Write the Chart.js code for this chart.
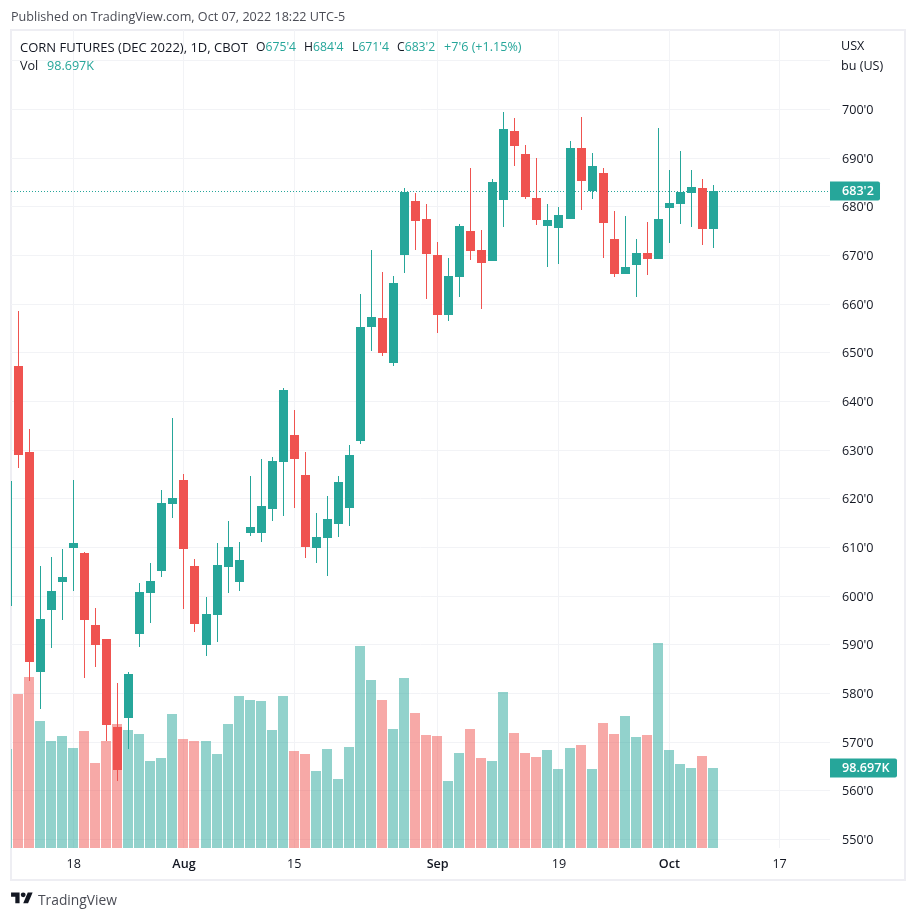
<!DOCTYPE html>
<html>
<head>
<meta charset="utf-8">
<title>CORN FUTURES (DEC 2022)</title>
<script src="https://cdn.jsdelivr.net/npm/chart.js@4/dist/chart.umd.min.js"></script>
<style>
    html, body { margin: 0; padding: 0; background: #fff; }
    body { width: 915px; height: 919px; position: relative; overflow: hidden; font-family: "Open Sans", sans-serif; color: #131722; }
    #frame { position: absolute; left: 10px; top: 29px; width: 892px; height: 848px; border: 2px solid #eeeef3; }
    canvas { position: absolute; left: 0; top: 0; }
    .txt { position: absolute; white-space: nowrap; font-size: 12.6px; line-height: 16px; }
    .val { color: #26a69a; }
    #published { left: 11px; top: 9px; color: #4a4c55; }
    #logo { position: absolute; left: 11px; top: 890px; }
    #brand { left: 38px; top: 890px; font-size: 13.8px; line-height: 20px; color: #4a4c55; }
</style>
</head>
<body>
<div id="frame"></div>
<canvas id="chart" width="915" height="919"></canvas>

<div class="txt" id="published">Published on TradingView.com, Oct 07, 2022 18:22 UTC-5</div>

<div class="txt" style="left:20px;top:39px;font-size:13px">CORN FUTURES (DEC 2022), 1D, CBOT</div>
<div class="txt" style="left:256px;top:39px;font-size:12.2px">O<span class="val">675'4</span></div>
<div class="txt" style="left:304px;top:39px;font-size:12.2px">H<span class="val">684'4</span></div>
<div class="txt" style="left:352px;top:39px;font-size:12.2px">L<span class="val">671'4</span></div>
<div class="txt" style="left:397px;top:39px;font-size:12.2px">C<span class="val">683'2</span></div>
<div class="txt val" style="left:444px;top:39px">+7'6 (+1.15%)</div>
<div class="txt" style="left:20px;top:58px">Vol</div>
<div class="txt val" style="left:47px;top:58px">98.697K</div>

<div class="txt" style="left:841px;top:38px">USX</div>
<div class="txt" style="left:841px;top:58px">bu (US)</div>

<svg id="logo" width="22" height="17" viewBox="0 0 36 28"><path fill="#131722" d="M14 22H7V11H0V4h14v18zM28 22h-8l7.5-18h8L28 22z"/><circle fill="#131722" cx="20" cy="8" r="4"/></svg>
<div class="txt" id="brand">TradingView</div>

<script>
const barDates = [
    '2022-07-08',
    '2022-07-11', '2022-07-12', '2022-07-13', '2022-07-14', '2022-07-15',
    '2022-07-18', '2022-07-19', '2022-07-20', '2022-07-21', '2022-07-22',
    '2022-07-25', '2022-07-26', '2022-07-27', '2022-07-28', '2022-07-29',
    '2022-08-01', '2022-08-02', '2022-08-03', '2022-08-04', '2022-08-05',
    '2022-08-08', '2022-08-09', '2022-08-10', '2022-08-11', '2022-08-12',
    '2022-08-15', '2022-08-16', '2022-08-17', '2022-08-18', '2022-08-19',
    '2022-08-22', '2022-08-23', '2022-08-24', '2022-08-25', '2022-08-26',
    '2022-08-29', '2022-08-30', '2022-08-31', '2022-09-01', '2022-09-02',
    '2022-09-06', '2022-09-07', '2022-09-08', '2022-09-09',
    '2022-09-12', '2022-09-13', '2022-09-14', '2022-09-15', '2022-09-16',
    '2022-09-19', '2022-09-20', '2022-09-21', '2022-09-22', '2022-09-23',
    '2022-09-26', '2022-09-27', '2022-09-28', '2022-09-29', '2022-09-30',
    '2022-10-03', '2022-10-04', '2022-10-05', '2022-10-06', '2022-10-07'
];
const opens = [
    598.0,
    647.3, 629.6, 584.3, 597.1, 602.9,
    609.9, 608.9, 594.1, 591.2, 573.1,
    575.0, 592.2, 600.6, 605.2, 618.9,
    623.9, 606.2, 590.0, 596.1, 606.0,
    602.9, 613.0, 613.0, 617.9, 627.6,
    633.1, 624.9, 609.9, 611.9, 614.8,
    618.1, 631.9, 655.3, 657.1, 647.9,
    670.1, 681.2, 677.5, 670.1, 657.8,
    665.6, 675.0, 671.1, 668.9,
    681.4, 695.6, 690.8, 681.8, 676.0,
    675.6, 677.5, 692.1, 683.2, 686.9,
    673.4, 666.2, 668.0, 670.5, 669.3,
    679.7, 680.6, 682.8, 683.9, 675.5
];
const highs = [
    623.6,
    658.6, 634.3, 606.2, 608.0, 609.7,
    623.9, 609.1, 597.6, 591.2, 582.1,
    584.4, 602.7, 606.8, 621.8, 636.6,
    625.1, 607.6, 599.8, 610.9, 615.4,
    611.1, 624.7, 628.2, 628.6, 642.8,
    638.2, 629.6, 617.1, 620.6, 624.7,
    631.1, 662.1, 671.1, 666.6, 665.8,
    683.9, 682.8, 680.6, 672.8, 669.5,
    676.5, 688.0, 675.2, 685.7,
    699.5, 698.2, 692.7, 690.0, 680.6,
    680.0, 693.5, 698.4, 691.0, 688.0,
    679.1, 678.1, 673.4, 676.9, 696.2,
    687.6, 691.5, 687.6, 685.7, 684.5
];
const lows = [
    598.0,
    626.4, 582.6, 576.9, 589.4, 595.1,
    601.1, 583.2, 585.4, 570.2, 562.1,
    568.6, 589.5, 594.5, 603.9, 616.1,
    597.4, 592.6, 587.7, 590.6, 600.6,
    601.1, 612.4, 611.1, 615.4, 616.5,
    618.1, 607.8, 606.8, 604.1, 612.1,
    614.4, 631.3, 650.4, 649.3, 647.3,
    666.4, 671.1, 661.0, 654.1, 656.5,
    661.5, 669.1, 659.0, 668.9,
    675.8, 688.4, 681.6, 676.3, 667.6,
    668.2, 677.5, 679.3, 681.6, 669.5,
    665.6, 666.2, 661.5, 666.0, 669.3,
    672.6, 676.5, 675.8, 672.1, 671.5
];
const closes = [
    623.6,
    628.9, 586.5, 595.3, 601.1, 603.9,
    610.9, 595.1, 590.0, 573.5, 564.3,
    584.0, 600.8, 603.1, 619.1, 620.2,
    609.7, 594.3, 596.3, 606.4, 610.1,
    607.4, 614.2, 618.5, 627.8, 642.4,
    628.2, 610.1, 612.1, 615.8, 623.4,
    629.0, 655.3, 657.4, 650.0, 664.3,
    683.0, 677.1, 670.3, 657.8, 665.8,
    676.0, 670.9, 668.4, 685.1,
    696.0, 692.5, 682.0, 677.3, 677.3,
    678.3, 692.1, 685.3, 688.4, 676.7,
    666.2, 667.6, 670.5, 669.3, 677.5,
    680.8, 683.0, 684.1, 675.4, 683.25
];
// volume in thousands
const volumes = [
    122.1,
    190.0, 211.0, 156.7, 132.0, 138.2,
    123.4, 144.3, 104.9, 132.0, 153.0,
    145.6, 140.6, 107.3, 111.0, 165.3,
    134.5, 132.0, 132.0, 116.0, 153.0,
    187.5, 182.6, 181.4, 145.6, 187.5,
    119.7, 116.0, 95.0, 122.1, 85.1,
    124.6, 249.2, 207.3, 182.6, 146.8,
    209.7, 166.6, 139.4, 138.2, 82.7,
    117.2, 146.8, 111.0, 107.3,
    192.5, 141.9, 117.2, 112.3, 120.9,
    97.5, 123.4, 127.1, 97.5, 154.2,
    140.6, 162.9, 136.9, 139.4, 252.9,
    120.9, 103.6, 98.697, 113.5, 98.697
];

const priceTicks = [550, 560, 570, 580, 590, 600, 610, 620, 630, 640, 650, 660, 670, 680, 690, 700, 710];
const priceTickLabels = ["550'0", "560'0", "570'0", "580'0", "590'0", "600'0", "610'0", "620'0", "630'0", "640'0", "650'0", "660'0", "670'0", "680'0", "690'0", "700'0", ''];
const timeTicks = [6, 16, 26, 39, 50, 60, 70];   // position in barDates, 70 is past the last bar
const timeTickLabels = ['18', 'Aug', '15', 'Sep', '19', 'Oct', '17'];
const monthLabels = ['Aug', 'Sep', 'Oct'];
const lastPriceLabel = "683'2";
const lastVolumeLabel = '98.697K';

const TEAL = '#26a69a';
const RED = '#ef5350';
const TEAL_VOL = 'rgba(38, 166, 154, 0.5)';
const RED_VOL = 'rgba(239, 83, 80, 0.5)';
const GRID = '#f2f3f6';
const FONT = '"Open Sans", sans-serif';

const isUp = barDates.map((d, i) => closes[i] >= opens[i]);
const candleColors = isUp.map(up => up ? TEAL : RED);
const volumeColors = isUp.map(up => up ? TEAL_VOL : RED_VOL);

// snap the bars to whole pixels, the original has no blurred edges
const snapPlugin = {
    id: 'snap',
    beforeDatasetsDraw(chart) {
        chart.getSortedVisibleDatasetMetas().forEach(meta => {
            meta.data.forEach(el => {
                if (meta.type === 'bar') {
                    el.x = Math.floor(el.x) + (el.width % 2 ? 0.5 : 0);
                    el.y = Math.round(el.y);
                    el.base = Math.round(el.base);
                } else {
                    el.y = Math.floor(el.y + 0.5) + 0.5;
                }
            });
        });
    }
};

// last price and last volume tags on the right axis
const tagsPlugin = {
    id: 'tags',
    afterDraw(chart) {
        const { ctx, chartArea, scales } = chart;
        const drawTag = (y, width, label) => {
            ctx.save();
            ctx.fillStyle = TEAL;
            ctx.beginPath();
            ctx.roundRect(chartArea.right, Math.round(y) - 9.5, width, 19, [0, 2, 2, 0]);
            ctx.fill();
            ctx.fillStyle = '#fff';
            ctx.font = '600 12.6px ' + FONT;
            ctx.textBaseline = 'middle';
            ctx.fillText(label, chartArea.right + 12, Math.round(y) + 0.5);
            ctx.restore();
        };
        drawTag(scales.y.getPixelForValue(closes[closes.length - 1]), 50, lastPriceLabel);
        drawTag(scales.vol.getPixelForValue(volumes[volumes.length - 1]), 67, lastVolumeLabel);
    }
};

new Chart(document.getElementById('chart'), {
    data: {
        datasets: [
            {
                type: 'bar',
                label: 'Vol',
                yAxisID: 'vol',
                order: 4,
                barThickness: 10,
                inflateAmount: 0,
                data: volumes.map((v, i) => ({ x: i, y: v })),
                backgroundColor: volumeColors
            },
            {
                type: 'line',
                label: 'Last',
                yAxisID: 'y',
                order: 3,
                data: [
                    { x: 0.32, y: closes[closes.length - 1] },
                    { x: 74.57, y: closes[closes.length - 1] }
                ],
                borderColor: TEAL,
                borderWidth: 1,
                borderDash: [1, 2],
                pointRadius: 0
            },
            {
                type: 'bar',
                label: 'Wick',
                yAxisID: 'y',
                order: 2,
                barThickness: 1,
                inflateAmount: 0,
                data: highs.map((h, i) => ({ x: i, y: [lows[i], h] })),
                backgroundColor: candleColors
            },
            {
                type: 'bar',
                label: 'Body',
                yAxisID: 'y',
                order: 1,
                barThickness: 9,
                inflateAmount: 0,
                data: opens.map((o, i) => ({ x: i, y: [o, closes[i]] })),
                backgroundColor: candleColors
            }
        ]
    },
    options: {
        responsive: false,
        animation: false,
        events: [],
        layout: { padding: { left: 11, top: 30, right: 10, bottom: 39 } },
        plugins: {
            legend: { display: false },
            tooltip: { enabled: false }
        },
        datasets: { bar: { grouped: false } },
        scales: {
            x: {
                type: 'linear',
                offset: false,
                min: 0.32,
                max: 74.57,
                afterBuildTicks: scale => { scale.ticks = timeTicks.map(value => ({ value })); },
                afterFit: scale => { scale.height = 32; },
                border: { display: false },
                grid: { color: GRID, drawTicks: false, offset: false },
                ticks: {
                    autoSkip: false,
                    maxRotation: 0,
                    padding: 9,
                    color: '#131722',
                    font: ctx => ({
                        family: FONT,
                        size: 12.6,
                        weight: monthLabels.includes(timeTickLabels[ctx.index]) ? '600' : '400'
                    }),
                    callback: (value, index) => timeTickLabels[index]
                }
            },
            y: {
                position: 'right',
                min: 548.24,
                max: 716.3,
                afterBuildTicks: scale => { scale.ticks = priceTicks.map(value => ({ value })); },
                afterFit: scale => { scale.width = 75; },
                border: { display: false },
                grid: { color: GRID, drawTicks: false },
                ticks: {
                    autoSkip: false,
                    padding: 12,
                    labelOffset: 1,
                    color: '#131722',
                    font: { family: FONT, size: 12.6 },
                    callback: (value, index) => priceTickLabels[index]
                }
            },
            vol: {
                display: false,
                position: 'left',
                min: 0,
                max: 1009.2
            }
        }
    },
    plugins: [snapPlugin, tagsPlugin]
});
</script>
</body>
</html>
